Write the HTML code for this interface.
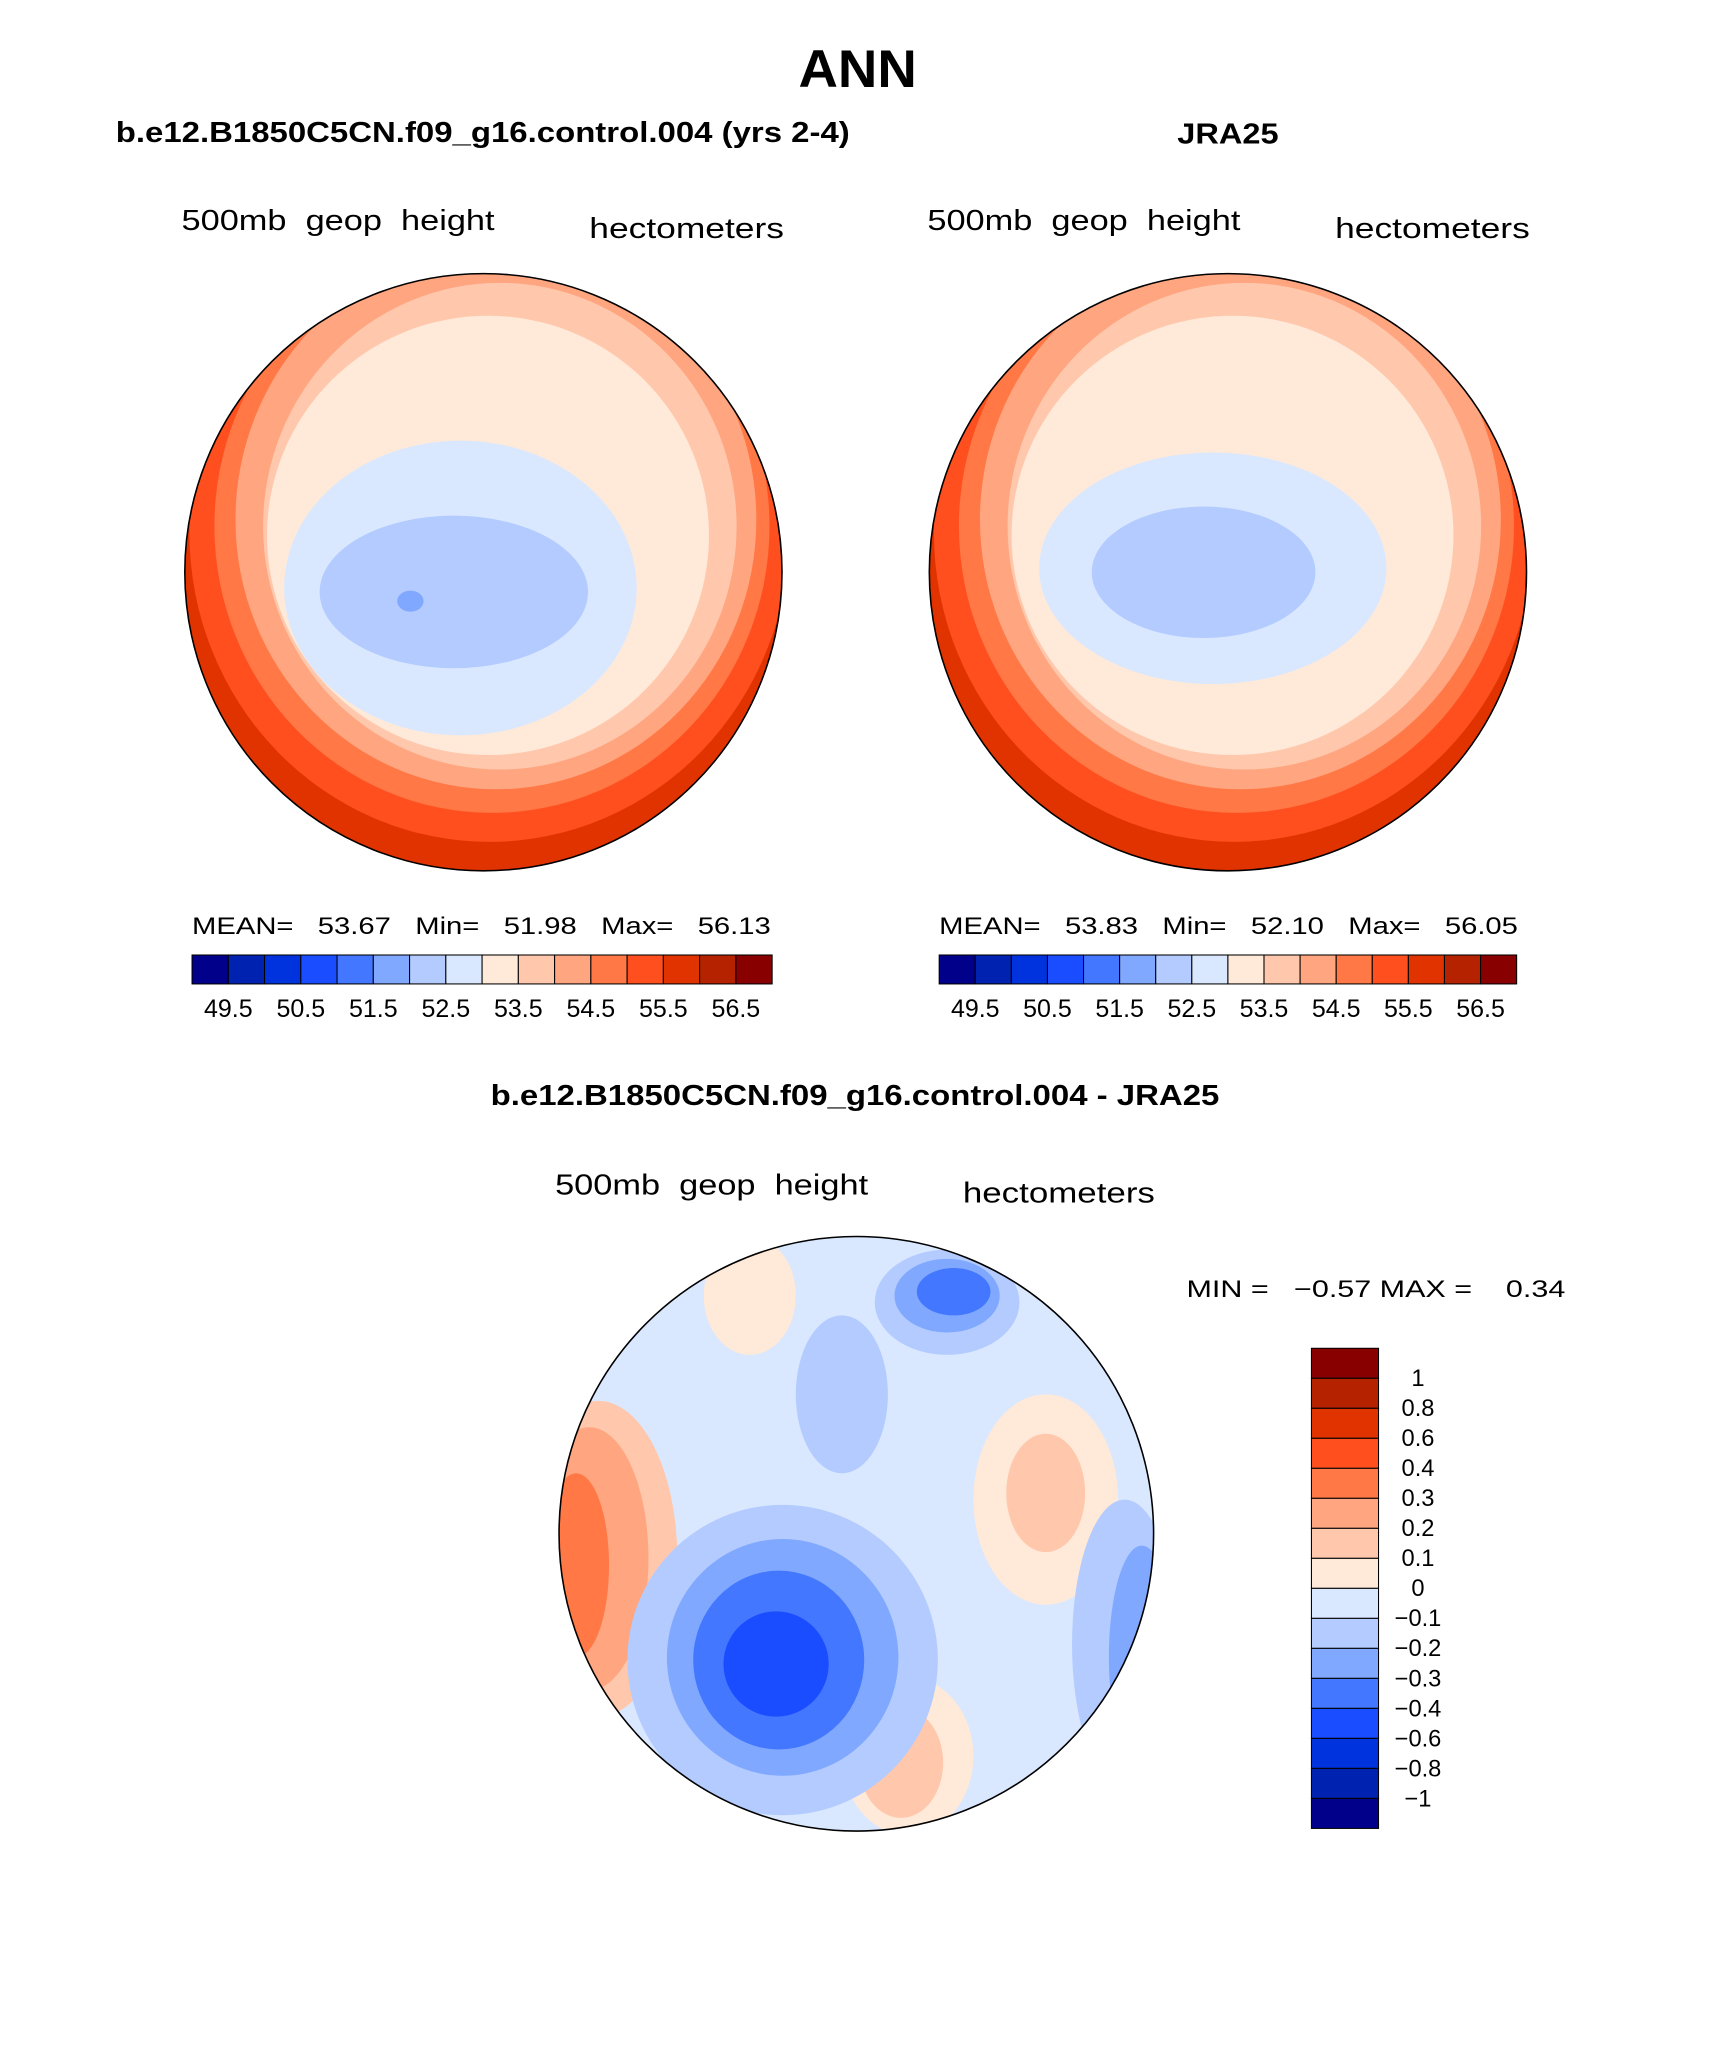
<!DOCTYPE html>
<html><head><meta charset="utf-8"><style>
html,body{margin:0;padding:0;background:#fff;}
svg{display:block;font-family:"Liberation Sans",sans-serif;}
</style></head><body>
<svg id="fig" width="1710" height="2061" viewBox="0 0 1300 1566.8" xmlns="http://www.w3.org/2000/svg">
<defs>
<clipPath id="c1"><circle cx="367.5" cy="435" r="227"/></clipPath>
<clipPath id="c2"><circle cx="933.5" cy="435" r="227"/></clipPath>
<clipPath id="c3"><circle cx="651" cy="1166" r="226"/></clipPath>
</defs>
<text x="607" y="66" font-size="40" font-weight="bold" textLength="90" lengthAdjust="spacingAndGlyphs">ANN</text>
<text x="88" y="108" font-size="22" font-weight="bold" textLength="558" lengthAdjust="spacingAndGlyphs">b.e12.B1850C5CN.f09_g16.control.004 (yrs 2-4)</text>
<text x="895" y="109" font-size="22" font-weight="bold" textLength="77" lengthAdjust="spacingAndGlyphs">JRA25</text>
<text x="138" y="175" font-size="22" textLength="238" lengthAdjust="spacingAndGlyphs" xml:space="preserve">500mb  geop  height</text>
<text x="448" y="181" font-size="22" textLength="148" lengthAdjust="spacingAndGlyphs">hectometers</text>
<text x="705" y="175" font-size="22" textLength="238" lengthAdjust="spacingAndGlyphs" xml:space="preserve">500mb  geop  height</text>
<text x="1015" y="181" font-size="22" textLength="148" lengthAdjust="spacingAndGlyphs">hectometers</text>
<g id="map1" clip-path="url(#c1)"></g>
<circle cx="367.5" cy="435" r="227" fill="none" stroke="#000" stroke-width="1.2"/>
<g id="map2" clip-path="url(#c2)"></g>
<circle cx="933.5" cy="435" r="227" fill="none" stroke="#000" stroke-width="1.2"/>
<text x="146" y="710" font-size="18" textLength="440" lengthAdjust="spacingAndGlyphs" xml:space="preserve">MEAN=   53.67   Min=   51.98   Max=   56.13</text>
<text x="714" y="710" font-size="18" textLength="440" lengthAdjust="spacingAndGlyphs" xml:space="preserve">MEAN=   53.83   Min=   52.10   Max=   56.05</text>
<g id="cb1"></g>
<g id="cb2"></g>
<text x="373" y="840" font-size="22" font-weight="bold" textLength="554" lengthAdjust="spacingAndGlyphs">b.e12.B1850C5CN.f09_g16.control.004 - JRA25</text>
<text x="422" y="908" font-size="22" textLength="238" lengthAdjust="spacingAndGlyphs" xml:space="preserve">500mb  geop  height</text>
<text x="732" y="914" font-size="22" textLength="146" lengthAdjust="spacingAndGlyphs">hectometers</text>
<g id="map3" clip-path="url(#c3)"></g>
<circle cx="651" cy="1166" r="226" fill="none" stroke="#000" stroke-width="1.2"/>
<text x="902" y="986" font-size="18" textLength="288" lengthAdjust="spacingAndGlyphs" xml:space="preserve">MIN =   −0.57 MAX =    0.34</text>
<g id="cb3"></g>
</svg>
<script>
const NS="http://www.w3.org/2000/svg";
const colors=["#00008a","#0022b0","#0033dd","#1a4dff","#4477ff","#80a8ff","#b3cbff","#d9e8ff","#ffe9d8","#ffc8ac","#ffa580","#ff7845","#ff4f1f","#e13300","#b52200","#880000"];
const fullLabels=["49.5","50.5","51.5","52.5","53.5","54.5","55.5","56.5"];
const diffLabels=["1","0.8","0.6","0.4","0.3","0.2","0.1","0","−0.1","−0.2","−0.3","−0.4","−0.6","−0.8","−1"];
// contour regions: [colorIndex, cx, cy, rx, ry]
const map1Bands=[[13,367,435,240,240],[12,372,405,228,235],[11,374,400,211,218],[10,377,395,198,205],[9,380,400,180,185],[8,371,407,168,167],[7,350,447,134,112],[6,345,450,102,58],[5,312,457,10,8]];
const map2Bands=[[13,933,435,240,240],[12,938,405,228,235],[11,940,400,211,218],[10,943,395,198,205],[9,946,400,180,185],[8,937,407,168,167],[7,922,432,132,88],[6,915,435,85,50]];
const map3Bands=[[7,651,1166,240,240],[6,640,1060,35,60],[8,570,985,35,45],[6,720,990,55,40],[5,720,985,40,28],[4,725,982,28,18],[9,455,1185,60,120],[10,448,1185,45,100],[11,438,1190,25,70],[8,795,1140,55,80],[9,795,1135,30,45],[6,855,1250,40,110],[5,868,1260,25,85],[4,878,1265,12,55],[8,690,1335,50,60],[9,685,1340,32,42],[6,595,1262,118,118],[5,595,1260,88,90],[4,592,1262,65,68],[3,590,1265,40,40]];
function el(tag,attrs,parent){const e=document.createElementNS(NS,tag);for(const k in attrs)e.setAttribute(k,attrs[k]);parent.appendChild(e);return e;}
function drawMap(id,bands){
  const g=document.getElementById(id);
  bands.forEach(b=>{
    const e=el("ellipse",{cx:b[1],cy:b[2],rx:b[3],ry:b[4],fill:colors[b[0]]},g);
    
    
  });
}
drawMap("map1",map1Bands);drawMap("map2",map2Bands);drawMap("map3",map3Bands);
function hbar(id,x0,x1,y0,y1){
  const g=document.getElementById(id);const w=(x1-x0)/colors.length;
  colors.forEach((c,i)=>{
    const r=el("rect",{x:x0+i*w,y:y0,width:w,height:y1-y0,fill:c,stroke:"#000","stroke-width":0.8},g);
    
    
  });
  fullLabels.forEach((t,i)=>{
    const tx=el("text",{x:x0+(1+2*i)*w,y:y1+25,"font-size":19,"text-anchor":"middle"},g);tx.textContent=t;
    
    
  });
}
hbar("cb1",146,587,726,748);hbar("cb2",714,1153,726,748);
(function(){
  const g=document.getElementById("cb3");const x0=997,x1=1048,y0=1025,y1=1390;const h=(y1-y0)/colors.length;
  colors.slice().reverse().forEach((c,i)=>{
    const r=el("rect",{x:x0,y:y0+i*h,width:x1-x0,height:h,fill:c,stroke:"#000","stroke-width":0.8},g);
    
    
  });
  diffLabels.forEach((t,i)=>{
    const tx=el("text",{x:1078,y:y0+(i+1)*h+6,"font-size":18,"text-anchor":"middle"},g);tx.textContent=t;
    
    
  });
})();
</script>
</body></html>
